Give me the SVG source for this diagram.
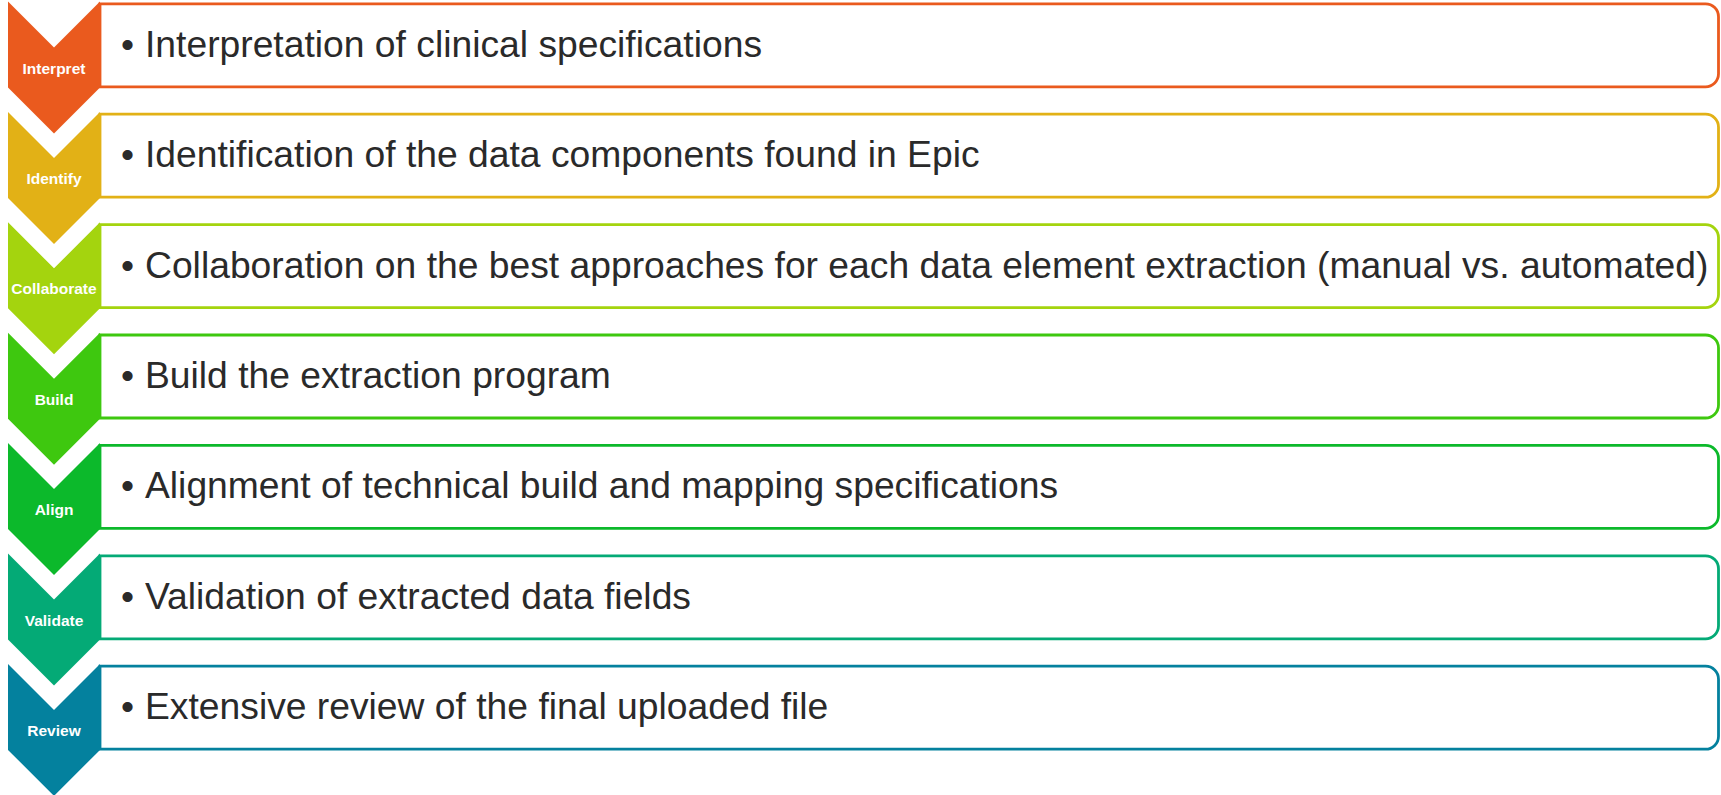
<svg xmlns="http://www.w3.org/2000/svg" width="1721" height="795" viewBox="0 0 1721 795">
  <style>
    .box { fill: #ffffff; stroke-width: 2.8; }
    .step { font-family: "Liberation Sans", Arial, sans-serif; font-weight: bold; font-size: 15.5px; fill: #ffffff; text-anchor: middle; }
    .desc { font-family: "Liberation Sans", Arial, sans-serif; font-size: 37.25px; fill: #2a2a2a; }
  </style>
  <defs>
    <!-- downward chevron used for each step marker -->
    <path id="chev" d="M8,1.5 L54,47.5 L100,1.5 L100,87.5 L54,133.5 L8,87.5 Z"/>
    <!-- box: square on the left, rounded on the right -->
    <path id="panel" d="M100,3.8 H1705.5 A13,13 0 0 1 1718.5,16.8 V73.8 A13,13 0 0 1 1705.5,86.8 H100 Z"/>
  </defs>
  <rect width="1721" height="795" fill="#ffffff"/>

  <g id="connectors"/>

  <g id="step-interpret">
    <use href="#panel" class="box" stroke="#EA5A1E"/>
    <use href="#chev" fill="#EA5A1E"/>
    <text class="step" x="54" y="73.5">Interpret</text>
    <text class="desc" y="56.8"><tspan x="121">•</tspan><tspan x="145">Interpretation of clinical specifications</tspan></text>
  </g>

  <g id="step-identify" transform="translate(0,110.4)">
    <use href="#panel" class="box" stroke="#E2B116"/>
    <use href="#chev" fill="#E2B116"/>
    <text class="step" x="54" y="73.5">Identify</text>
    <text class="desc" y="56.8"><tspan x="121">•</tspan><tspan x="145">Identification of the data components found in Epic</tspan></text>
  </g>

  <g id="step-collaborate" transform="translate(0,220.8)">
    <use href="#panel" class="box" stroke="#A4D40E"/>
    <use href="#chev" fill="#A4D40E"/>
    <text class="step" x="54" y="73.5">Collaborate</text>
    <text class="desc" y="56.8"><tspan x="121">•</tspan><tspan x="145">Collaboration on the best approaches for each data element extraction (manual vs. automated)</tspan></text>
  </g>

  <g id="step-build" transform="translate(0,331.2)">
    <use href="#panel" class="box" stroke="#3EC80F"/>
    <use href="#chev" fill="#3EC80F"/>
    <text class="step" x="54" y="73.5">Build</text>
    <text class="desc" y="56.8"><tspan x="121">•</tspan><tspan x="145">Build the extraction program</tspan></text>
  </g>

  <g id="step-align" transform="translate(0,441.6)">
    <use href="#panel" class="box" stroke="#0CB92B"/>
    <use href="#chev" fill="#0CB92B"/>
    <text class="step" x="54" y="73.5">Align</text>
    <text class="desc" y="56.8"><tspan x="121">•</tspan><tspan x="145">Alignment of technical build and mapping specifications</tspan></text>
  </g>

  <g id="step-validate" transform="translate(0,552)">
    <use href="#panel" class="box" stroke="#04AA76"/>
    <use href="#chev" fill="#04AA76"/>
    <text class="step" x="54" y="73.5">Validate</text>
    <text class="desc" y="56.8"><tspan x="121">•</tspan><tspan x="145">Validation of extracted data fields</tspan></text>
  </g>

  <g id="step-review" transform="translate(0,662.4)">
    <use href="#panel" class="box" stroke="#04819E"/>
    <use href="#chev" fill="#04819E"/>
    <text class="step" x="54" y="73.5">Review</text>
    <text class="desc" y="56.8"><tspan x="121">•</tspan><tspan x="145">Extensive review of the final uploaded file</tspan></text>
  </g>
</svg>
